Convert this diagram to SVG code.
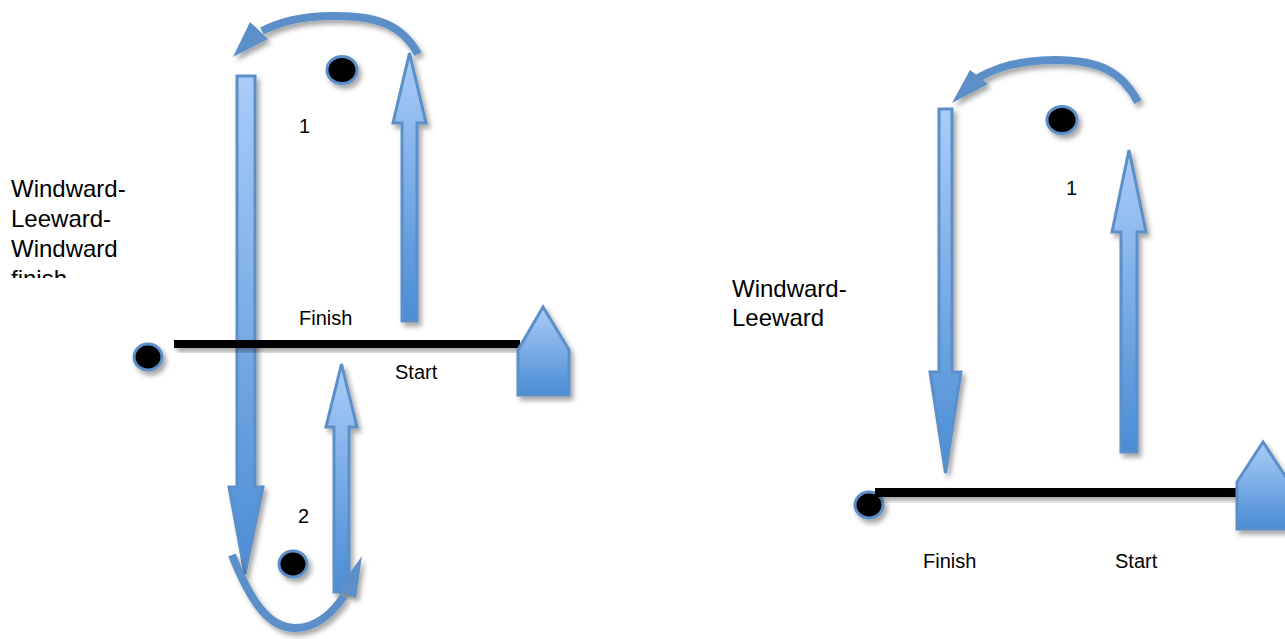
<svg xmlns="http://www.w3.org/2000/svg" width="1285" height="639" viewBox="0 0 1285 639">
<defs>
<style>
.lbl{font-family:"Liberation Sans",Arial,sans-serif;font-size:20px;fill:#000}
.big{font-family:"Liberation Sans",Arial,sans-serif;font-size:24px;fill:#000}
.arr{fill:url(#g);stroke:#5b8fc8;stroke-width:3;stroke-linejoin:miter;filter:url(#sh)}
.head{fill:#5b8fc8;stroke:none}
.mark{fill:#000;stroke:#5b8fc8;stroke-width:3;filter:url(#sh)}
.boat{fill:url(#g);stroke:#5b8fc8;stroke-width:3;filter:url(#sh)}
.line{fill:#000;stroke:none;filter:url(#sh)}
</style>
<linearGradient id="g" x1="0" y1="0" x2="0" y2="1">
<stop offset="0" stop-color="#aaccf8"/>
<stop offset="1" stop-color="#4a8cd4"/>
</linearGradient>
<filter id="sh" x="-30%" y="-60%" width="160%" height="220%">
<feDropShadow dx="3" dy="4" stdDeviation="2.5" flood-color="#000" flood-opacity="0.35"/>
</filter>
<clipPath id="clipL"><rect x="0" y="160" width="200" height="118"/></clipPath>
</defs>
<rect width="1285" height="639" fill="#fff"/>

<g id="connectors">
<polygon class="arr" points="237,76 255,76 255,487 263,487 245,574 229,487 237,487"/>
<polygon class="arr" points="402,321 402,123 393,123 409.5,53 426,123 417,123 417,321"/>
<polygon class="arr" points="334,592 334,427 326,427 341.5,364 357,427 349,427 349,592"/>
<g filter="url(#sh)">
<path d="M418,54 C402,25 378,16 335,16 C300,16 280,22 262,31" fill="none" stroke="#5b8fc8" stroke-width="8"/>
<polygon class="head" points="233,57 250,22 268,39"/>
</g>
<g filter="url(#sh)">
<path d="M232,555 C250,600 268,628 295,628 C318,628 333,612 344,596" fill="none" stroke="#5b8fc8" stroke-width="8"/>
<polygon class="head" points="362,556 337,591 356,598"/>
</g>
<polygon class="arr" points="939,109 952,109 952,372 961,372 945.5,473 930,372 939,372"/>
<polygon class="arr" points="1121,452 1121,232 1112,232 1129,150 1146,232 1137,232 1137,452"/>
<g filter="url(#sh)">
<path d="M1138,102 C1122,72 1100,60 1055,60 C1020,60 995,68 978,78" fill="none" stroke="#5b8fc8" stroke-width="8"/>
<polygon class="head" points="952,103 970,70 988,84"/>
</g>
</g>

<g id="left-finish-line"><rect class="line" x="174" y="340" width="346" height="8"/></g>
<g id="left-pin"><ellipse class="mark" cx="148" cy="357" rx="14" ry="13"/></g>
<g id="left-boat"><polygon class="boat" points="518,350 543,307 569,350 569,395 518,395"/></g>
<g id="left-mark1"><ellipse class="mark" cx="342" cy="70" rx="15" ry="13.5"/></g>
<g id="left-mark2"><ellipse class="mark" cx="293" cy="564" rx="14" ry="13"/></g>

<g id="right-pin"><ellipse class="mark" cx="869" cy="505" rx="14" ry="13"/></g>
<g id="right-finish-line"><rect class="line" x="875" y="488" width="365" height="9"/></g>
<g id="right-boat"><polygon class="boat" points="1237,482 1263,442 1289,482 1289,529 1237,529"/></g>
<g id="right-mark1"><ellipse class="mark" cx="1062" cy="120" rx="15" ry="13.5"/></g>

<g id="labels">
<g clip-path="url(#clipL)">
<text class="big" x="11" y="197">Windward-</text>
<text class="big" x="11" y="227">Leeward-</text>
<text class="big" x="11" y="257">Windward</text>
<text class="big" x="11" y="287">finish</text>
</g>
<text class="lbl" x="299" y="325">Finish</text>
<text class="lbl" x="395" y="379">Start</text>
<text class="lbl" x="299" y="133">1</text>
<text class="lbl" x="298" y="523">2</text>
<text class="big" x="732" y="297">Windward-</text>
<text class="big" x="732" y="326">Leeward</text>
<text class="lbl" x="1066" y="195">1</text>
<text class="lbl" x="923" y="568">Finish</text>
<text class="lbl" x="1115" y="568">Start</text>
</g>
</svg>
